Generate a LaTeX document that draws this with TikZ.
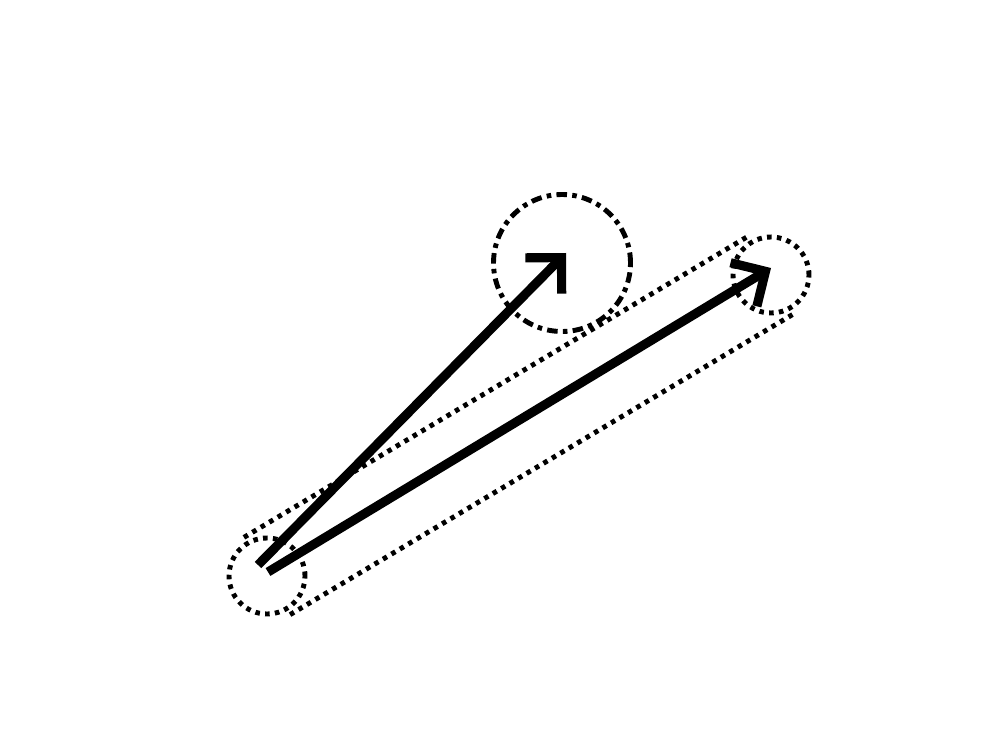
\documentclass[tikz,border=0pt]{standalone}
\usetikzlibrary{arrows.meta,calc}
\tikzset{ring/.style={circle,draw,line width=2.8pt,dash pattern=on 2.6pt off 3pt,minimum size=1.52cm,inner sep=0pt},goalring/.style={circle,draw,line width=2.8pt,dash pattern=on 6pt off 3pt on 2.6pt off 3pt,minimum size=2.74cm,inner sep=0pt},tube/.style={line width=2.8pt,dash pattern=on 2.6pt off 3pt},move/.style={-{Straight Barb[angle=90:7.2mm,line cap=butt,line join=miter]},line width=5.2pt,line cap=butt}}

\begin{document}
\begin{tikzpicture}
      \useasboundingbox (0,0) rectangle (20,15);
      \node[ring](start) at (5.34,3.48){};
      \node[ring](stop) at (15.42,9.5){};
      \node[goalring](goal) at (11.24,9.74){};
      \draw[tube]($(start)!0.9cm!90:(stop)$)--($(stop)!0.9cm!-90:(start)$);
      \draw[tube]($(start)!0.9cm!-90:(stop)$)--($(stop)!0.9cm!90:(start)$);
      \coordinate(s1) at (5.16,3.7);\coordinate(t1) at (11.32,9.94);
      \coordinate(s2) at (5.36,3.56);\coordinate(t2) at (15.42,9.64);
      \draw[move](s1)--(t1);\draw[move](s2)--(t2);
    \end{tikzpicture}
\end{document}
